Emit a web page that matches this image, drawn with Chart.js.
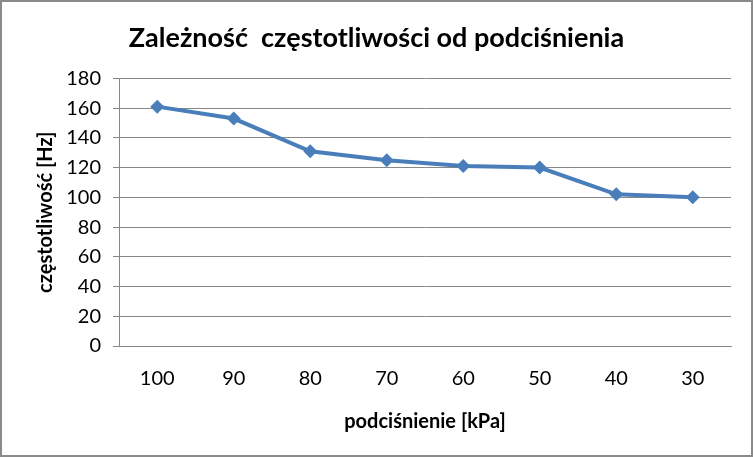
<!DOCTYPE html>
<html>
<head>
<meta charset="utf-8">
<script src="https://cdn.jsdelivr.net/npm/chart.js@4"></script>
<style>
    html, body { margin: 0; padding: 0; background: #fff; }
    #wrap { width: 753px; height: 457px; position: relative; }
</style>
</head>
<body>
<div id="wrap"><canvas id="freqChart"></canvas></div>
<script>
// Data
const pressureLabels = ['100', '90', '80', '70', '60', '50', '40', '30'];
const frequencyValues = [161, 153, 131, 125, 121, 120, 102, 100];
const yTicks = [0, 20, 40, 60, 80, 100, 120, 140, 160, 180];

const FONT = 'Lato, "Open Sans", sans-serif';
const GRID = '#878787';

// grey frame round the whole chart
const framePlugin = {
    id: 'frame',
    afterDraw: function(chart) {
        const c = chart.ctx;
        c.save();
        c.strokeStyle = '#8a8a8a';
        c.lineWidth = 2;
        c.strokeRect(1, 1, chart.width - 2, chart.height - 2);
        c.restore();
    }
};

document.addEventListener('DOMContentLoaded', function() {
    const ctx = document.getElementById('freqChart');

    new Chart(ctx, {
        type: 'line',
        data: {
            labels: pressureLabels,
            datasets: [{
                label: 'częstotliwość',
                data: frequencyValues,
                borderColor: '#4a7ebb',
                backgroundColor: '#4a7ebb',
                borderWidth: 4,
                tension: 0,
                pointStyle: 'rectRot',
                pointRadius: 7,
                pointBorderWidth: 0
            }]
        },
        options: {
            responsive: true,
            maintainAspectRatio: false,
            animation: false,
            layout: {
                padding: { top: 0, right: 22, bottom: 8, left: 22 }
            },
            plugins: {
                legend: { display: false },
                tooltip: { enabled: false },
                title: {
                    display: true,
                    text: 'Zależność  częstotliwości od podciśnienia',
                    color: '#000',
                    font: { family: FONT, size: 27, weight: 'bold' },
                    padding: { top: 22, bottom: 24 }
                }
            },
            scales: {
                x: {
                    offset: true,
                    grid: { display: false },
                    border: { display: true, color: GRID, width: 1 },
                    ticks: {
                        color: '#000',
                        font: { family: FONT, size: 20 },
                        padding: 13
                    },
                    title: {
                        display: true,
                        text: 'podciśnienie [kPa]',
                        color: '#000',
                        font: { family: FONT, size: 20, weight: 'bold' },
                        padding: { top: 10, bottom: 15 }
                    },
                    afterFit: function(scale) { scale.height = 103; }
                },
                y: {
                    min: 0,
                    max: 180,
                    afterBuildTicks: function(scale) {
                        scale.ticks = yTicks.map(v => ({ value: v }));
                    },
                    grid: {
                        color: GRID,
                        tickColor: GRID,
                        tickLength: 6,
                        drawTicks: true
                    },
                    border: { display: true, color: GRID, width: 1 },
                    ticks: {
                        color: '#000',
                        font: { family: FONT, size: 20 },
                        padding: 12
                    },
                    title: {
                        display: true,
                        text: 'częstotliwość [Hz]',
                        color: '#000',
                        font: { family: FONT, size: 20, weight: 'bold' },
                        padding: { top: 12, bottom: 4 }
                    },
                    afterFit: function(scale) { scale.width = 97; }
                }
            }
        },
        plugins: [framePlugin]
    });
});
</script>
</body>
</html>
